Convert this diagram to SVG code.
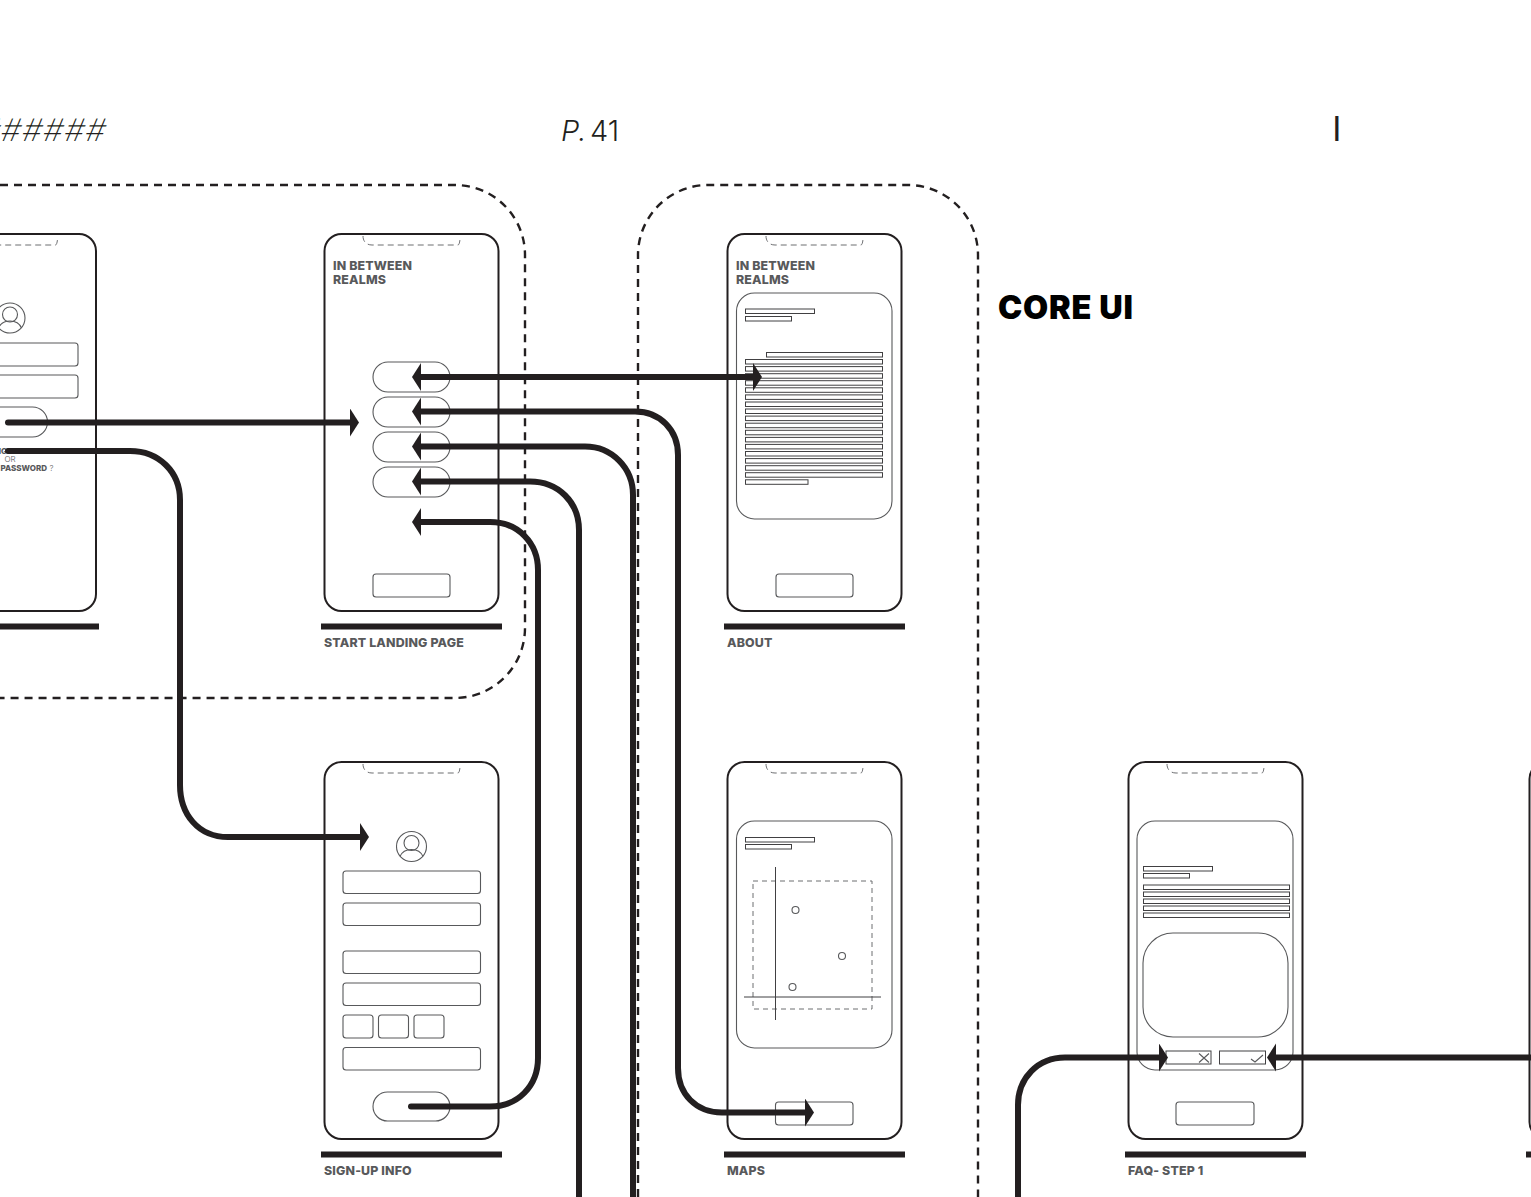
<svg xmlns="http://www.w3.org/2000/svg" xmlns:xlink="http://www.w3.org/1999/xlink" width="1531" height="1197" viewBox="0 0 1531 1197">
<style>
.frame{fill:none;stroke:#231f20;stroke-width:2}
.notch{fill:none;stroke:#6d6e71;stroke-width:1;stroke-dasharray:6 4}
.box{fill:none;stroke:#58595b;stroke-width:1.1}
.bar{fill:none;stroke:#414042;stroke-width:1}
.rail{fill:#231f20}
.zone{fill:none;stroke:#231f20;stroke-width:2.4;stroke-dasharray:8 6}
.lab{font-family:Inter,"Liberation Sans",sans-serif;font-weight:800;font-size:12.4px;letter-spacing:.15px;fill:#58595b}
.small{font-family:Inter,"Liberation Sans",sans-serif;font-weight:800;font-size:8px;fill:#58595b}
.thin{font-family:Inter,"Liberation Sans",sans-serif;font-weight:300;font-size:29px;fill:#231f20}
.core{font-family:Inter,"Liberation Sans",sans-serif;font-weight:900;font-size:32.5px;letter-spacing:.75px;fill:#000}
.wire{fill:none;stroke:#231f20;stroke-width:6;stroke-linecap:round}
</style>
<defs>
<g id="phone"><rect class="frame" x="0.5" y="0" width="174" height="377" rx="17"/><path class="notch" d="M39 2C39 7 42 11 48 11H134C135 11 136 8 136 4"/></g>
<g id="avatar"><circle class="box" cx="0" cy="0" r="15"/><circle class="box" cx="0" cy="-3.5" r="7.5"/><path class="box" d="M-11.5 10C-9 4 -5 3 0 3S9 4 11.5 10"/></g>
<marker id="head" markerUnits="userSpaceOnUse" markerWidth="12" markerHeight="30" refX="0" refY="14" orient="auto"><path d="M0 0L9 14L0 28Z" fill="#231f20"/></marker>
<marker id="headStart" markerUnits="userSpaceOnUse" markerWidth="12" markerHeight="30" refX="9" refY="14" orient="auto"><path d="M9 0L0 14L9 28Z" fill="#231f20"/></marker>
</defs>
<rect width="1531" height="1197" fill="#fff"/>

<g id="header">
<text class="thin" transform="translate(105 141) skewX(-14)" text-anchor="end" letter-spacing="1.5" style="font-size:31px;font-weight:200">#######</text>
<text class="thin" x="561" y="141" font-style="italic">P.</text>
<text class="thin" x="590" y="141">41</text>
<text class="thin" x="1336.700" y="141" text-anchor="middle" style="font-size:34px;font-weight:400">I</text>
</g>
<g id="title"><text class="core" x="998" y="319">CORE UI</text></g>

<g id="zones">
<path class="zone" d="M0 185H455A70 70 0 0 1 525 255V628A70 70 0 0 1 455 698H0"/>
<path class="zone" d="M638 1197V255A70 70 0 0 1 708 185H908A70 70 0 0 1 978 255V1197"/>
</g>

<g id="login-phone">
<use href="#phone" x="-78.5" y="234"/>
<use href="#avatar" x="10" y="318"/>
<rect class="box" x="-60" y="343" width="138" height="23" rx="3"/>
<rect class="box" x="-60" y="375" width="138" height="23" rx="3"/>
<rect class="box" x="-29.5" y="407" width="77" height="30" rx="15"/>
<text class="small" x="26" y="454" text-anchor="end">SIGN UP</text>
<text class="small" x="10" y="462" text-anchor="middle" style="font-weight:300">OR</text>
<text class="small" x="47" y="471" text-anchor="end">PASSWORD</text>
<text class="small" x="49.500" y="471" style="font-weight:300">?</text>
<rect class="rail" x="-82" y="623.500" width="181" height="6"/>
</g>

<g id="start-landing">
<use href="#phone" x="324" y="234"/>
<text class="lab" x="333" y="270">IN BETWEEN</text>
<text class="lab" x="333" y="284">REALMS</text>
<rect class="box" x="373" y="362" width="77" height="30" rx="15"/>
<rect class="box" x="373" y="397" width="77" height="30" rx="15"/>
<rect class="box" x="373" y="432" width="77" height="30" rx="15"/>
<rect class="box" x="373" y="467" width="77" height="30" rx="15"/>
<rect class="box" x="373" y="574" width="77" height="23" rx="3"/>
<rect class="rail" x="321" y="623.500" width="181" height="6"/>
<text class="lab" x="324" y="647">START LANDING PAGE</text>
</g>

<g id="about">
<use href="#phone" x="727" y="234"/>
<text class="lab" x="736" y="270">IN BETWEEN</text>
<text class="lab" x="736" y="284">REALMS</text>
<rect class="box" x="736.500" y="293" width="155.500" height="226" rx="18"/>
<rect class="bar" x="745.500" y="309" width="69" height="4.500"/>
<rect class="bar" x="745.500" y="316.500" width="46" height="4.500"/>
<rect class="bar" x="766.500" y="352.500" width="116" height="4.500"/>
<g id="about-lines">
<rect class="bar" x="745.500" y="359.500" width="137" height="4.500"/>
<rect class="bar" x="745.500" y="366.600" width="137" height="4.500"/>
<rect class="bar" x="745.500" y="373.700" width="137" height="4.500"/>
<rect class="bar" x="745.500" y="380.700" width="137" height="4.500"/>
<rect class="bar" x="745.500" y="387.800" width="137" height="4.500"/>
<rect class="bar" x="745.500" y="394.900" width="137" height="4.500"/>
<rect class="bar" x="745.500" y="402" width="137" height="4.500"/>
<rect class="bar" x="745.500" y="409" width="137" height="4.500"/>
<rect class="bar" x="745.500" y="416.100" width="137" height="4.500"/>
<rect class="bar" x="745.500" y="423.200" width="137" height="4.500"/>
<rect class="bar" x="745.500" y="430.300" width="137" height="4.500"/>
<rect class="bar" x="745.500" y="437.400" width="137" height="4.500"/>
<rect class="bar" x="745.500" y="444.400" width="137" height="4.500"/>
<rect class="bar" x="745.500" y="451.500" width="137" height="4.500"/>
<rect class="bar" x="745.500" y="458.600" width="137" height="4.500"/>
<rect class="bar" x="745.500" y="465.700" width="137" height="4.500"/>
<rect class="bar" x="745.500" y="472.700" width="137" height="4.500"/>
<rect class="bar" x="745.500" y="479.800" width="62.500" height="4.500"/>
</g>
<rect class="box" x="776" y="574" width="77" height="23" rx="3"/>
<rect class="rail" x="724" y="623.500" width="181" height="6"/>
<text class="lab" x="727" y="647">ABOUT</text>
</g>

<g id="sign-up-info">
<use href="#phone" x="324" y="762"/>
<use href="#avatar" x="411.500" y="846.500"/>
<rect class="box" x="343" y="871" width="137.500" height="22.500" rx="3"/>
<rect class="box" x="343" y="903" width="137.500" height="22.500" rx="3"/>
<rect class="box" x="343" y="951" width="137.500" height="22.500" rx="3"/>
<rect class="box" x="343" y="983" width="137.500" height="22.500" rx="3"/>
<rect class="box" x="343" y="1015" width="30" height="23" rx="3"/>
<rect class="box" x="378.500" y="1015" width="30" height="23" rx="3"/>
<rect class="box" x="414" y="1015" width="30" height="23" rx="3"/>
<rect class="box" x="343" y="1047.500" width="137.500" height="22.500" rx="3"/>
<rect class="box" x="373" y="1092" width="77" height="29" rx="14.500"/>
<rect class="rail" x="321" y="1151.500" width="181" height="6"/>
<text class="lab" x="324" y="1175">SIGN-UP INFO</text>
</g>

<g id="maps">
<use href="#phone" x="727" y="762"/>
<rect class="box" x="736.500" y="821" width="155.500" height="227" rx="18"/>
<rect class="bar" x="745.500" y="837.500" width="69" height="4.500"/>
<rect class="bar" x="745.500" y="844.500" width="46" height="4.500"/>
<rect x="753" y="881" width="119" height="128" fill="none" stroke="#6d6e71" stroke-width="1" stroke-dasharray="5 4"/>
<path d="M775.500 867V1020M744 997H881" fill="none" stroke="#414042" stroke-width="1"/>
<circle class="box" cx="795.500" cy="910" r="3.500"/>
<circle class="box" cx="842" cy="956" r="3.500"/>
<circle class="box" cx="792.500" cy="987" r="3.500"/>
<rect class="box" x="775.500" y="1102" width="77.500" height="23" rx="3"/>
<rect class="rail" x="724" y="1151.500" width="181" height="6"/>
<text class="lab" x="727" y="1175">MAPS</text>
</g>

<g id="faq-step-1">
<use href="#phone" x="1128" y="762"/>
<rect class="box" x="1137" y="821" width="156" height="249" rx="18"/>
<rect class="bar" x="1143.500" y="866.500" width="69" height="4.500"/>
<rect class="bar" x="1143.500" y="873.500" width="46" height="4.500"/>
<rect class="bar" x="1143.500" y="885" width="146" height="4.500"/>
<rect class="bar" x="1143.500" y="892" width="146" height="4.500"/>
<rect class="bar" x="1143.500" y="899" width="146" height="4.500"/>
<rect class="bar" x="1143.500" y="906" width="146" height="4.500"/>
<rect class="bar" x="1143.500" y="913" width="146" height="4.500"/>
<rect class="box" x="1143" y="933" width="145" height="104" rx="30"/>
<rect x="1166" y="1051" width="45" height="13" fill="#fff" stroke="#414042"/>
<rect x="1219.500" y="1051" width="46" height="13" fill="#fff" stroke="#414042"/>
<path class="box" d="M1199 1053.500L1209 1062.500M1209 1053.500L1199 1062.500M1251 1059L1255 1062L1263 1055"/>
<rect class="box" x="1176" y="1102" width="78" height="23" rx="3"/>
<rect class="rail" x="1125" y="1151.500" width="181" height="6"/>
<text class="lab" x="1128" y="1175">FAQ- STEP 1</text>
</g>

<g id="next-phone">
<use href="#phone" x="1529" y="762"/>
<rect class="rail" x="1526" y="1151.500" width="10" height="6"/>
</g>

<g id="connectors">
<path class="wire" d="M421 377H753" marker-start="url(#headStart)" marker-end="url(#head)"/>
<path class="wire" d="M421 411.500H635C660 411.500 678 430 678 455V1068C678 1094 696 1112.500 722 1112.500H805" marker-start="url(#headStart)" marker-end="url(#head)"/>
<path class="wire" d="M421 446.500H585C612 446.500 633 468 633 495V1200" marker-start="url(#headStart)"/>
<path class="wire" d="M421 481.500H530C558 481.500 579 502 579 530V1200" marker-start="url(#headStart)"/>
<path class="wire" d="M421 522H490C518 522 538 543 538 570V1058C538 1086 518 1106.500 490 1106.500H411" marker-start="url(#headStart)"/>
<path class="wire" d="M8 422.500H350" marker-end="url(#head)"/>
<path class="wire" d="M8 451H130C159 451 180 472 180 500V785C180 814 198 837 228 837H360" marker-end="url(#head)"/>
<path class="wire" d="M1018 1200V1105C1018 1078 1038 1057.500 1065 1057.500H1159" marker-end="url(#head)"/>
<path class="wire" d="M1535 1057.500H1276" marker-end="url(#head)"/>
</g>
</svg>
